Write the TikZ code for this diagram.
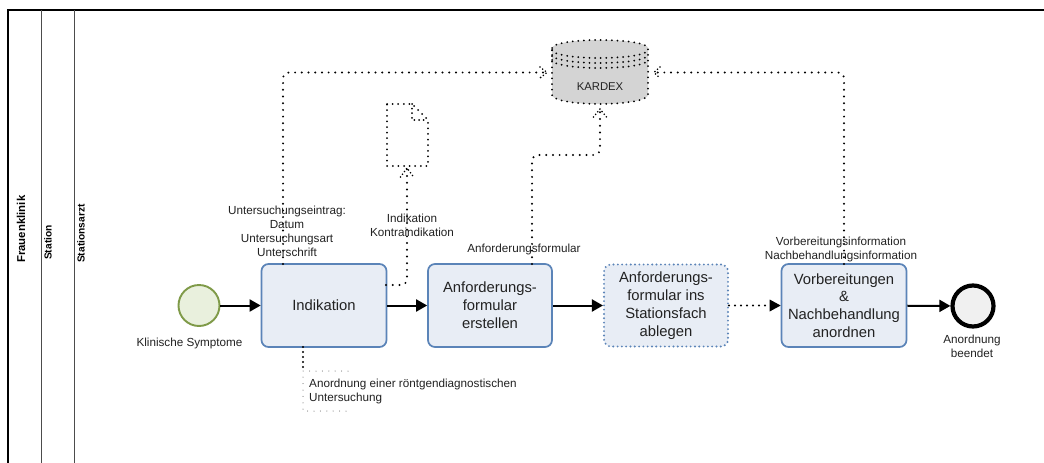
\documentclass[tikz,border=0pt]{standalone}
\usepackage{fontspec}
\setmainfont{Liberation Sans}
\usetikzlibrary{arrows.meta,shapes.geometric}
\definecolor{taskblue}{HTML}{5B84B8}
\definecolor{taskfill}{HTML}{E8EDF5}
\definecolor{startgreen}{HTML}{7F9A48}
\definecolor{startfill}{HTML}{E9F0DD}
\definecolor{txt}{HTML}{222222}
\tikzset{
  task/.style={draw=taskblue,line width=1.7pt,fill=taskfill,rounded corners=7pt,align=center,inner sep=0pt,font=\fontsize{14.8}{17.8}\selectfont,text=txt},
  seq/.style={line width=2pt,-{Triangle[length=11pt,width=12pt]}},
  assoc/.style={line width=2.2pt,line cap=round,dash pattern=on 0pt off 6.7pt},
  shapedots/.style={line width=2pt,line cap=round,dash pattern=on 0pt off 5.6pt},
  headdots/.style={line width=1.8pt,line cap=round,dash pattern=on 0pt off 3.4pt},
  lbl/.style={font=\fontsize{11.7}{14}\selectfont,align=center,text=txt,inner sep=0pt},
  pool/.style={font=\bfseries\fontsize{10.2}{12}\selectfont,rotate=90,anchor=west,inner sep=0pt},
}
\begin{document}
\begin{tikzpicture}[x=1pt,y=-1pt]
\useasboundingbox (0,0) rectangle (1044,463);
\fill[white] (0,0) rectangle (1044,463);
% frame
\coordinate (tl) at (8,10);
\coordinate (bl) at (8,463);
\coordinate (tr) at (1044,10);
\draw[line width=1.4pt] (bl) -- (tl) -- (tr);
\draw[line width=0.9pt,black!70] (41.5,10) -- (41.5,463);
\draw[line width=0.9pt,black!70] (74.5,10) -- (74.5,463);
\node[pool,font=\bfseries\fontsize{11.4}{13}\selectfont] (pf) at (21,263) {Frauenklinik};
\node[pool] (ps) at (48,260) {Station};
\node[pool] (pa) at (81,263) {Stationsarzt};
% events
\node[circle,draw=startgreen,fill=startfill,line width=1.9pt,minimum size=41pt,inner sep=0pt] (start) at (199,305.5) {};
\node[circle,draw=black,fill=black!6,line width=4.2pt,minimum size=41pt,inner sep=0pt] (end) at (973,306) {};
% tasks
\node[task,minimum width=125pt,minimum height=83pt] (t1) at (324,305.5) {Indikation};
\node[task,minimum width=124pt,minimum height=83pt] (t2) at (490,305.5) {Anforderungs-\\formular\\erstellen};
\node[task,dash pattern=on 0pt off 4.3pt,line cap=round,line width=2.1pt,minimum width=124pt,minimum height=82pt] (t3) at (666,305.5) {Anforderungs-\\formular ins\\Stationsfach\\ablegen};
\node[task,minimum width=125pt,minimum height=83pt] (t4) at (844,305.5) {Vorbereitungen\\\&\\Nachbehandlung\\anordnen};
% sequence flows
\draw[seq] (start) -- (t1);
\draw[seq] (t1) -- (t2);
\draw[seq] (t2) -- (t3);
\draw[assoc,shorten >=11pt,dash pattern=on 0pt off 6pt] (t3) -- (t4);
\fill[black] (t4.west) -- ++(-11,-6) -- ++(0,12) -- cycle;
\draw[seq] (t4) -- (end);
% KARDEX
\fill[black!17] (552,48) arc[start angle=180,end angle=360,x radius=48,y radius=8] -- (648,95) arc[start angle=0,end angle=180,x radius=48,y radius=9] -- cycle;
\draw[shapedots] (552,48) arc[start angle=180,end angle=360,x radius=48,y radius=8] -- (648,95) arc[start angle=0,end angle=180,x radius=48,y radius=9] -- cycle;
\draw[shapedots] (552,50) arc[start angle=180,end angle=0,x radius=48,y radius=8];
\draw[shapedots] (552,55) arc[start angle=180,end angle=0,x radius=48,y radius=8];
\draw[shapedots] (552,60) arc[start angle=180,end angle=0,x radius=48,y radius=8];
\node[font=\fontsize{11.3}{13}\selectfont,text=txt,inner sep=0pt] (kardex) at (600,87) {KARDEX};
\coordinate (kw) at (547,72.5);
\coordinate (ke) at (654,72.5);
\coordinate (ks) at (600,109);
% document
\coordinate (d1) at (387,104);
\coordinate (d2) at (412,104);
\coordinate (d3) at (428,120);
\coordinate (d4) at (428,166);
\coordinate (d5) at (387,166);
\coordinate (d6) at (412,120);
\draw[shapedots] (d1) -- (d2) -- (d3) -- (d4) -- (d5) -- cycle;
\draw[shapedots,dash pattern=on 0pt off 4.6pt] (d2) -- (d6) -- (d3);
\coordinate (ds) at (407,168);
% associations
\draw[assoc,rounded corners=6pt] (283,264) -- (283,72.5) -- (kw);
\draw[headdots] (540,67) -- (kw) -- (540,78);
\draw[assoc,rounded corners=6pt] (386,285) -- (407,285) -- (ds);
\draw[headdots] (400.5,177) -- (ds) -- (413.5,177);
\draw[assoc,rounded corners=6pt] (532,264) -- (532,155) -- (600,155) -- (ks);
\draw[headdots] (593.5,117) -- (ks) -- (606.5,117);
\draw[assoc,rounded corners=6pt] (844,264) -- (844,72.5) -- (ke);
\draw[headdots] (660,67) -- (ke) -- (660,78);
% annotation
\coordinate (a0) at (303,347);
\coordinate (a1) at (303,371);
\draw[assoc,dash pattern=on 0pt off 5pt] (a0) -- (a1);
\draw[black!70,line width=1pt,line cap=round,dash pattern=on 0pt off 6.4pt] (348,371) -- (a1) -- (303,411) -- (348,411);
% labels
\node[lbl] (l1) at (287,231) {Untersuchungseintrag:\\Datum\\Untersuchungsart\\Unterschrift};
\node[lbl] (l2) at (412,225) {Indikation\\Kontraindikation};
\node[lbl] (l3) at (524,249) {Anforderungsformular};
\node[lbl] (l4) at (841,249) {Vorbereitungsinformation\\Nachbehandlungsinformation};
\node[lbl] (l5) at (189.5,343) {Klinische Symptome};
\node[lbl] (l6) at (972,346) {Anordnung\\beendet};
\node[lbl,align=left,anchor=west] (l7) at (309,391) {Anordnung einer röntgendiagnostischen\\Untersuchung};
\end{tikzpicture}
\end{document}
